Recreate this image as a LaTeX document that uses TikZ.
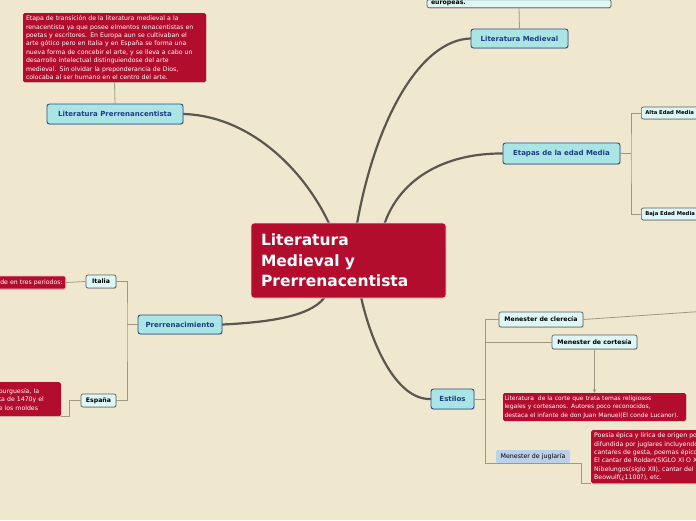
\documentclass[tikz,border=0pt]{standalone}
\usepackage{fontspec}
\setmainfont{DejaVu Sans}
\usetikzlibrary{arrows.meta,shadows,backgrounds}

\begin{document}
\begin{tikzpicture}[x=1pt,y=-1pt,every node/.style={align=center},
  branch/.style={line width=2.2pt,draw=curve,line cap=round},
  link/.style={line width=.8pt,draw=wire},
  softshadow/.style={drop shadow={shadow xshift=.7pt,shadow yshift=-.9pt,opacity=.3}},
  topic/.style={draw=topicline,line width=.9pt,fill=topicfill,rounded corners=2.5pt,text=topictext,
    font=\fontsize{7}{8}\selectfont\bfseries,minimum height=20pt,softshadow},
  subtopic/.style={draw=subline,line width=.7pt,fill=subfill,rounded corners=2pt,text=black,
    font=\fontsize{6.2}{7}\selectfont\bfseries,minimum height=14pt,inner xsep=4pt,softshadow},
  note/.style={fill=notered,text=white,rounded corners=1.5pt,align=left,text width=177pt,
    inner xsep=3pt,inner ysep=2.5pt,font=\fontsize{6.2}{8.4}\selectfont,softshadow}]
  \definecolor{paper}{HTML}{F0E7CF}
  \definecolor{notered}{HTML}{B20D2D}
  \definecolor{curve}{HTML}{5A5751}
  \definecolor{wire}{HTML}{A09884}
  \definecolor{topicfill}{HTML}{A9E5E5}
  \definecolor{topicline}{HTML}{2C4C8A}
  \definecolor{topictext}{HTML}{1F3B86}
  \definecolor{subfill}{HTML}{DDF7F6}
  \definecolor{subline}{HTML}{5E5E5E}
  \definecolor{jugfill}{HTML}{BCD0E8}
  \useasboundingbox (0,0) rectangle (696,520);
  \clip (0,0) rectangle (696,520);
  % Central topic.
  \node[fill=notered,draw=white!80!notered,line width=.8pt,rounded corners=3pt,minimum width=195pt,
    minimum height=75pt,text width=175pt,align=left,text=white,
    font=\fontsize{15.5}{20.5}\selectfont\bfseries] (core) at (348.5,260.5)
    {Literatura\\Medieval y\\Prerrenacentista};
  % Main branches.
  \node[topic,minimum width=136pt] (prerenac) at (115,114) {Literatura Prerrenancentista};
  \node[topic,minimum width=97pt,minimum height=19pt] (medieval) at (519.5,38.5) {Literatura Medieval};
  \node[topic,minimum width=117pt,minimum height=21pt] (etapas) at (561.5,153.5) {Etapas de la edad Media};
  \node[topic,minimum width=84pt,minimum height=19pt] (prerrenacimiento) at (180,324.5) {Prerrenacimiento};
  \node[topic,minimum width=43pt] (estilos) at (452.5,399) {Estilos};
  % Notes of the main branches.
  \node[note,anchor=north] (pretext) at (114.5,13) {Etapa de transición de la literatura medieval a la\\
    renacentista ya que posee elmentos renacentistas en\\
    poetas y escritores. En Europa aun se cultivaban el\\
    arte gótico pero en Italia y en España se forma una\\
    nueva forma de concebir el arte, y se lleva a cabo un\\
    desarrollo intelectual distinguiendose del arte\\
    medieval. Sin olvidar la preponderancia de Dios,\\
    colocaba al ser humano en el centro del arte.};
  \node[subtopic,text width=176pt,align=left,anchor=south,inner ysep=1pt,minimum height=8pt] (medtext) at (519,8) {europeas.};
  % Etapas.
  \node[subtopic,anchor=west,minimum height=12pt,font=\fontsize{5.3}{6}\selectfont\bfseries] (alta) at (641,113) {Alta Edad Media};
  \node[subtopic,anchor=west,minimum height=12pt,font=\fontsize{5.3}{6}\selectfont\bfseries] (baja) at (641,214) {Baja Edad Media};
  % Prerrenacimiento.
  \node[subtopic,minimum width=30pt,minimum height=13pt] (italia) at (101,281.5) {Italia};
  \node[subtopic,minimum width=35pt,minimum height=13pt] (espana) at (98.5,400.5) {España};
  \node[note,anchor=east,text width=63pt,align=right,minimum height=13pt,inner ysep=1pt,
    draw=white!70!notered,line width=.6pt] (italtext) at (66,282.5) {de en tres periodos:};
  \node[note,anchor=north east,text width=58pt,inner xsep=4pt,minimum height=34pt] (esptext) at (61,382)
    {burguesía, la\\ta de 1470y el\\e los moldes};
  % Estilos.
  \node[subtopic,minimum width=84pt,minimum height=15pt] (clerecia) at (541,319.5) {Menester de clerecía};
  \node[subtopic,minimum width=85pt,minimum height=14pt] (cortesia) at (594.5,342) {Menester de cortesía};
  \node[fill=jugfill,rounded corners=1.5pt,minimum width=74pt,minimum height=13pt,
    font=\fontsize{6.3}{7}\selectfont,text=black] (juglaria) at (533,456.5) {Menester de juglaría};
  \node[note,anchor=north,text width=180pt,inner xsep=1.5pt,font=\fontsize{6}{8.4}\selectfont] (cortext) at (594.5,393)
    {Literatura\ \ de la corte que trata temas religiosos\\
    legales y cortesanos. Autores poco reconocidos,\\
    destaca el infante de don Juan Manuel(El conde Lucanor).};
  \node[note,anchor=north west] (jugtext) at (591,430) {Poesía épica y lírica de origen pop\\
    difundida por juglares incluyendo\\
    cantares de gesta, poemas épicos\\
    El cantar de Roldan(SIGLO XI O X\\
    Nibelungos(siglo XII), cantar del\\
    Beowulf(¿1100?), etc.};
  \coordinate (clerout) at (700,311.5);
  % Thin connectors.
  \draw[link] (pretext.south) -- (prerenac.north);
  \draw[link] (medtext.south) -- (medieval.north);
  \coordinate (etj) at (631,153.5);
  \draw[link] (etapas.east) -- (etj);
  \draw[link] (alta.west) -| (etj) |- (baja.west);
  \coordinate (prj) at (127,324.5);
  \draw[link] (prerrenacimiento.west) -- (prj);
  \draw[link] (italia.east) -| (prj) |- (espana.east);
  \draw[link] (italia.west) -- (italtext.east);
  \draw[link] (espana.west) -- ++(-11,0) |- (esptext.south east);
  \coordinate (esj) at (486,399);
  \draw[link] (estilos.east) -- (esj);
  \draw[link] (clerecia.west) -| ([xshift=-10pt]juglaria.south west) -- ([xshift=11pt]juglaria.south east) |- (jugtext.south west);
  \draw[link] (cortesia.west) -- (cortesia.west -| esj);
  \draw[link,-{Stealth[length=4pt,width=3.5pt]}] (cortesia.south) -- (cortext.north);
  \draw[link] (clerecia.east) -- (clerout);
  % Thick branches behind the nodes.
  \begin{pgfonlayer}{background}
    \fill[paper] (0,0) rectangle (696,520);
    \draw[branch] (prerenac.east) .. controls (250,116) and (305,170) .. ([xshift=-18pt,yshift=-4pt]core.north);
    \draw[branch] (medieval.west) .. controls (420,40) and (375,120) .. ([xshift=8pt,yshift=-4pt]core.north);
    \draw[branch] (etapas.west) .. controls (450,153) and (400,175) .. ([xshift=35pt,yshift=-4pt]core.north);
    \draw[branch] (prerrenacimiento.east) .. controls (275,322) and (315,315) .. ([xshift=-22pt,yshift=4pt]core.south);
    \draw[branch] (estilos.west) .. controls (395,400) and (370,340) .. ([xshift=12pt,yshift=4pt]core.south);
  \end{pgfonlayer}
\end{tikzpicture}
\end{document}
